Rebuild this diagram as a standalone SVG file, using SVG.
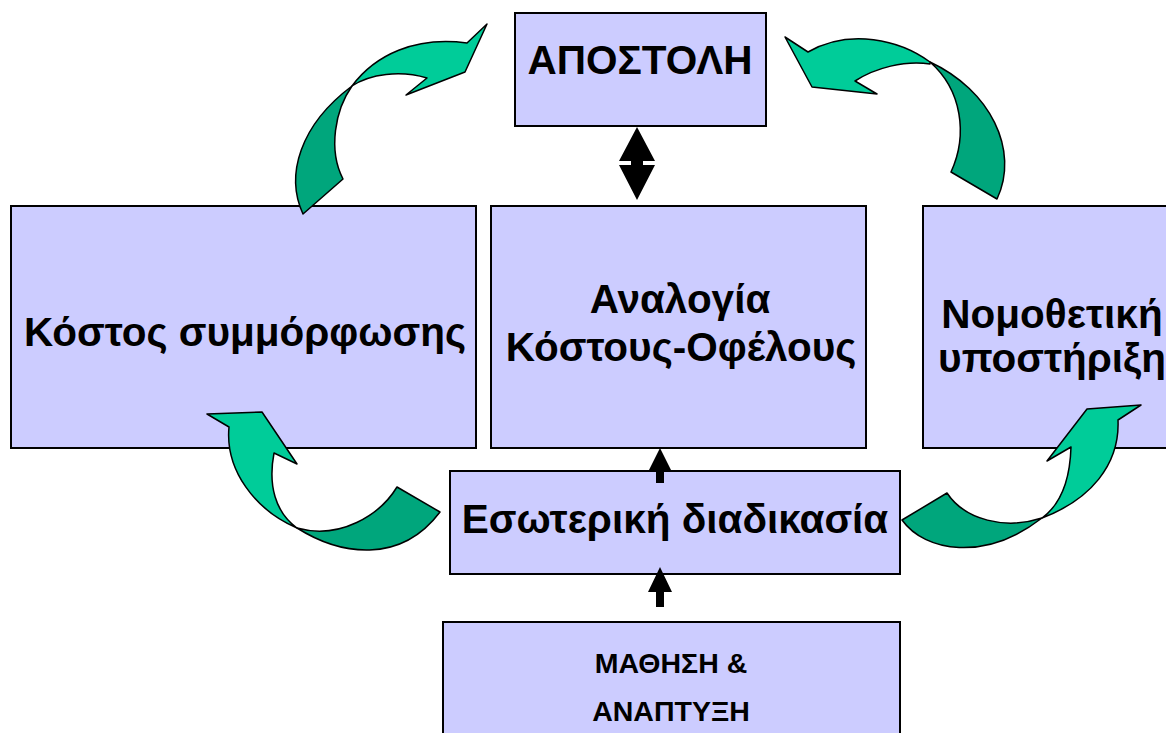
<svg xmlns="http://www.w3.org/2000/svg" width="1166" height="733" viewBox="0 0 1166 733">
<style>
.box{fill:#CCCCFF;stroke:#000;stroke-width:2}
.t{font-family:"Liberation Sans",Arial,sans-serif;font-weight:bold;fill:#000;text-anchor:middle}
.big{font-size:40.5px}
.small{font-size:28.5px}
.lt{fill:#00CC99;stroke:#000;stroke-width:1.5;stroke-linejoin:round}
.dk{fill:#00A67C;stroke:#000;stroke-width:1.5;stroke-linejoin:round}
.blk{fill:#000}
</style>
<rect width="1166" height="733" fill="#fff"/>
<g id="apostoli"><rect class="box" x="515" y="13" width="251" height="113"/><text class="t big" x="640" y="74">ΑΠΟΣΤΟΛΗ</text></g>
<g id="kostos"><rect class="box" x="11" y="206" width="465" height="242"/><text class="t big" x="245" y="346">Κόστος συμμόρφωσης</text></g>
<g id="analogia"><rect class="box" x="491" y="206" width="375" height="242"/><text class="t big" x="680" y="313">Αναλογία</text><text class="t big" x="681" y="361">Κόστους-Οφέλους</text></g>
<g id="nomothetiki"><rect class="box" x="923" y="206" width="258" height="242"/><text class="t big" x="1052" y="328">Νομοθετική</text><text class="t big" x="1052" y="372">υποστήριξη</text></g>
<g id="esoteriki"><rect class="box" x="450" y="471" width="450" height="103"/><text class="t big" x="675" y="533">Εσωτερική διαδικασία</text></g>
<g id="mathisi"><rect class="box" x="443" y="622" width="457" height="130"/><text class="t small" x="671" y="673">ΜΑΘΗΣΗ &amp;</text><text class="t small" x="671" y="721">ΑΝΑΠΤΥΞΗ</text></g>
<g id="connectors">
<path class="blk" d="M637,127 L655,161 L619,161 Z M619,165 L655,165 L637,200 Z"/>
<rect class="blk" x="631" y="160" width="12" height="6"/>
<path class="blk" d="M660,448 L672,472 L664,472 L664,483 L656,483 L656,472 L648,472 Z"/>
<path class="blk" d="M660,567 L672,592 L664,592 L664,607 L656,607 L656,592 L648,592 Z"/>
<path class="dk" d="M303,214 C285,175 300,125 352,86 C335,110 328,150 343,179 Z"/>
<path class="lt" d="M352,86 C375,55 415,36 467,43 L487,24 L465,72 L406,95 L427,78 C400,70 370,74 352,86 Z"/>
<path class="dk" d="M930,62 C990,90 1020,150 997,199 L951,172 C968,135 962,90 930,62 Z"/>
<path class="lt" d="M930,62 C900,40 850,28 808,52 L785,37 L812,87 L877,94 L855,81 C875,68 905,60 930,64 Z"/>
<path class="lt" d="M297,528 C255,510 225,470 229,427 L207,414 L262,412 L297,464 L274,453 C268,485 275,512 297,528 Z"/>
<path class="dk" d="M297,528 C340,555 400,565 440,512 L397,487 C380,515 340,540 297,528 Z"/>
<path class="dk" d="M902,520 C925,552 985,562 1042,518 C1005,530 965,520 947,493 Z"/>
<path class="lt" d="M1042,518 C1090,500 1120,465 1118,420 L1141,405 L1087,409 L1047,461 L1071,447 C1070,480 1060,505 1042,518 Z"/>
</g>
</svg>
